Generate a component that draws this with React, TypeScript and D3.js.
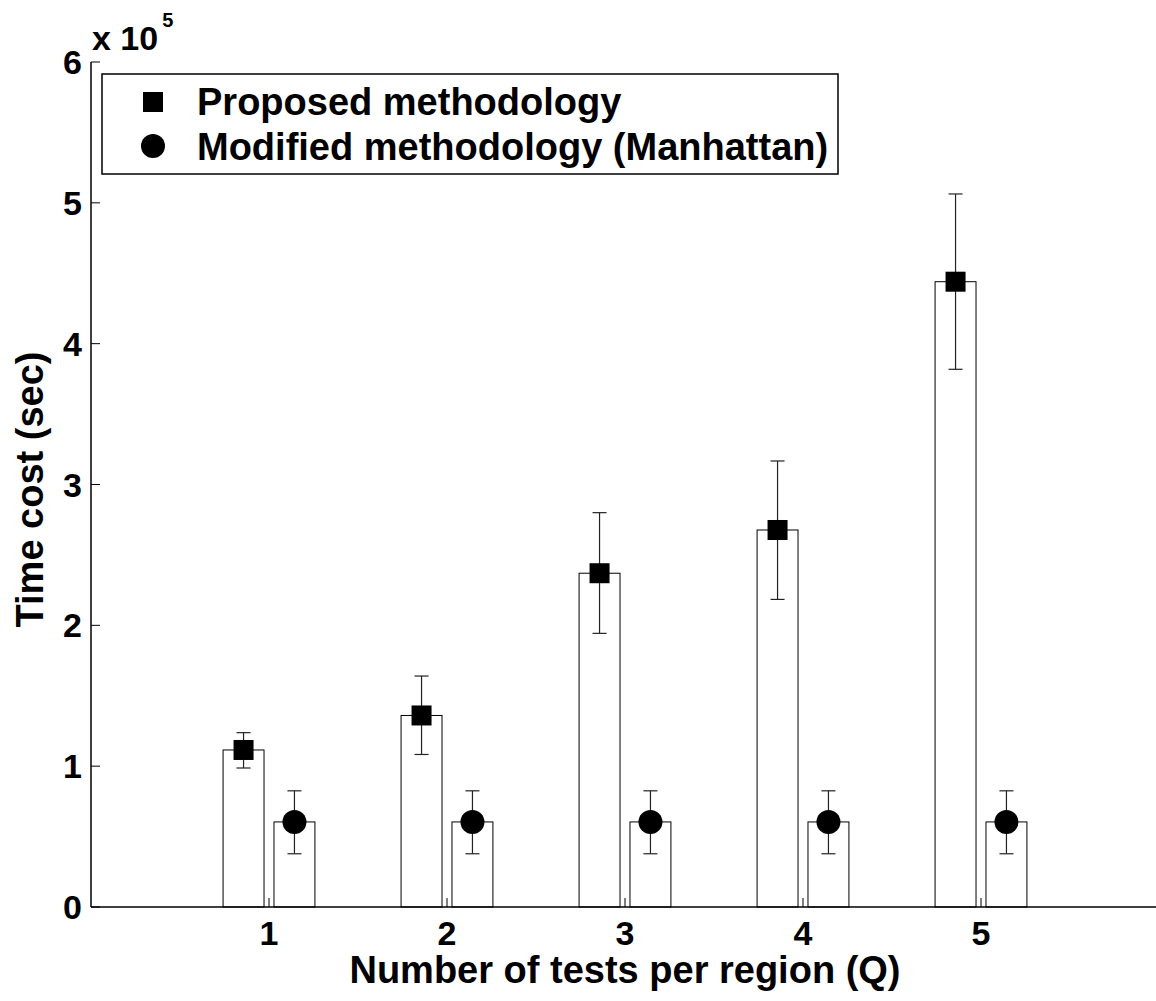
import { useEffect, useRef } from "react"
import * as d3 from "d3"

// values in seconds (axis is shown in units of 10^5)
const categories = [1, 2, 3, 4, 5]
const proposedMean = [1.115e5, 1.36e5, 2.37e5, 2.677e5, 4.44e5]
const proposedUpper = [1.238e5, 1.64e5, 2.8e5, 3.167e5, 5.063e5]
const proposedLower = [0.987e5, 1.083e5, 1.943e5, 2.184e5, 3.818e5]
const modifiedMean = [0.604e5, 0.604e5, 0.604e5, 0.604e5, 0.604e5]
const modifiedUpper = [0.825e5, 0.825e5, 0.825e5, 0.825e5, 0.825e5]
const modifiedLower = [0.378e5, 0.378e5, 0.378e5, 0.378e5, 0.378e5]
const yTicks = [0, 1e5, 2e5, 3e5, 4e5, 5e5, 6e5]
const seriesNames = ["Proposed methodology", "Modified methodology (Manhattan)"]

export default function App() {
  const svgRef = useRef<SVGSVGElement>(null)

  useEffect(() => {
    if (!svgRef.current) return
    d3.select(svgRef.current).selectAll("*").remove()

    const width = 1156
    const height = 1001
    const font = "'Liberation Sans', Arial, Helvetica, sans-serif"

    const svg = d3.select(svgRef.current).attr("width", width).attr("height", height)

    svg.append("rect").attr("width", width).attr("height", height).attr("fill", "#fff")

    const x = d3.scaleLinear().domain([0, 6]).range([91, 1159])
    const y = d3.scaleLinear().domain([0, 6e5]).range([907, 62])

    const offset = 0.143 // bar centre offset from category
    const barW = x(0.23) - x(0)
    const capW = 14

    const series = [
      { mean: proposedMean, upper: proposedUpper, lower: proposedLower, dx: -offset, marker: "square" },
      { mean: modifiedMean, upper: modifiedUpper, lower: modifiedLower, dx: offset, marker: "circle" },
    ]

    // bars
    series.forEach((s) => {
      svg
        .append("g")
        .selectAll("rect")
        .data(categories)
        .enter()
        .append("rect")
        .attr("x", (d) => x(d + s.dx) - barW / 2)
        .attr("y", (d, i) => y(s.mean[i]))
        .attr("width", barW)
        .attr("height", (d, i) => y(0) - y(s.mean[i]))
        .attr("fill", "#fff")
        .attr("stroke", "#000")
        .attr("stroke-width", 1)
    })

    // axes
    svg
      .append("line")
      .attr("x1", x(0))
      .attr("x2", width)
      .attr("y1", y(0))
      .attr("y2", y(0))
      .attr("stroke", "#000")
      .attr("stroke-width", 1.5)
    svg
      .append("line")
      .attr("x1", x(0))
      .attr("x2", x(0))
      .attr("y1", y(0))
      .attr("y2", y(6e5))
      .attr("stroke", "#000")
      .attr("stroke-width", 1.5)

    // y ticks (inward) and labels
    const yt = svg.append("g").selectAll("g").data(yTicks).enter().append("g")
    yt.append("line")
      .attr("x1", x(0))
      .attr("x2", x(0) + 9)
      .attr("y1", (d) => y(d))
      .attr("y2", (d) => y(d))
      .attr("stroke", "#000")
    yt.append("text")
      .attr("x", 82)
      .attr("y", (d) => y(d) + 12)
      .attr("text-anchor", "end")
      .style("font-family", font)
      .style("font-weight", "bold")
      .style("font-size", "34px")
      .text((d) => d3.format("d")(d / 1e5))

    // exponent label
    const expo = svg
      .append("text")
      .attr("x", 92)
      .attr("y", 50)
      .style("font-family", font)
      .style("font-weight", "bold")
      .style("font-size", "34px")
    expo.append("tspan").text("x 10")
    expo.append("tspan").attr("y", 27).style("font-size", "20px").attr("dx", 4).text("5")

    // x ticks (inward) and labels
    const xt = svg.append("g").selectAll("g").data(categories).enter().append("g")
    xt.append("line")
      .attr("x1", (d) => x(d))
      .attr("x2", (d) => x(d))
      .attr("y1", y(0))
      .attr("y2", y(0) - 9)
      .attr("stroke", "#000")
    xt.append("text")
      .attr("x", (d) => x(d))
      .attr("y", 945)
      .attr("text-anchor", "middle")
      .style("font-family", font)
      .style("font-weight", "bold")
      .style("font-size", "34px")
      .text((d) => d)

    // axis titles
    svg
      .append("text")
      .attr("x", (x(0) + x(6)) / 2)
      .attr("y", 983)
      .attr("text-anchor", "middle")
      .style("font-family", font)
      .style("font-weight", "bold")
      .style("font-size", "38px")
      .text("Number of tests per region (Q)")
    svg
      .append("text")
      .attr("transform", `translate(43, ${(y(0) + y(6e5)) / 2 + 5}) rotate(-90)`)
      .attr("text-anchor", "middle")
      .style("font-family", font)
      .style("font-weight", "bold")
      .style("font-size", "38px")
      .text("Time cost (sec)")

    // error bars and markers
    series.forEach((s) => {
      const g = svg.append("g")
      categories.forEach((c, i) => {
        const cx = x(c + s.dx)
        g.append("line")
          .attr("x1", cx)
          .attr("x2", cx)
          .attr("y1", y(s.lower[i]))
          .attr("y2", y(s.upper[i]))
          .attr("stroke", "#222")
          .attr("stroke-width", 1.2)
        ;[s.lower[i], s.upper[i]].forEach((v) => {
          g.append("line")
            .attr("x1", cx - capW / 2)
            .attr("x2", cx + capW / 2)
            .attr("y1", y(v))
            .attr("y2", y(v))
            .attr("stroke", "#222")
            .attr("stroke-width", 1.2)
        })
        if (s.marker === "square") {
          g.append("rect")
            .attr("x", cx - 10)
            .attr("y", y(s.mean[i]) - 10)
            .attr("width", 20)
            .attr("height", 20)
            .attr("fill", "#000")
        } else {
          g.append("circle").attr("cx", cx).attr("cy", y(s.mean[i])).attr("r", 12).attr("fill", "#000")
        }
      })
    })

    // legend
    const lg = svg.append("g")
    lg.append("rect")
      .attr("x", 102)
      .attr("y", 74)
      .attr("width", 736)
      .attr("height", 100)
      .attr("fill", "#fff")
      .attr("stroke", "#000")
      .attr("stroke-width", 1.5)
    lg.append("rect").attr("x", 143).attr("y", 92).attr("width", 20).attr("height", 20).attr("fill", "#000")
    lg.append("circle").attr("cx", 153).attr("cy", 146).attr("r", 12).attr("fill", "#000")
    lg.selectAll("text.leg")
      .data(seriesNames)
      .enter()
      .append("text")
      .attr("class", "leg")
      .attr("x", 197)
      .attr("y", (d, i) => 115 + i * 45)
      .style("font-family", font)
      .style("font-weight", "bold")
      .style("font-size", "38px")
      .text((d) => d)
  }, [])

  return <svg ref={svgRef} style={{ position: "absolute", left: 0, top: 0, display: "block" }}></svg>
}
